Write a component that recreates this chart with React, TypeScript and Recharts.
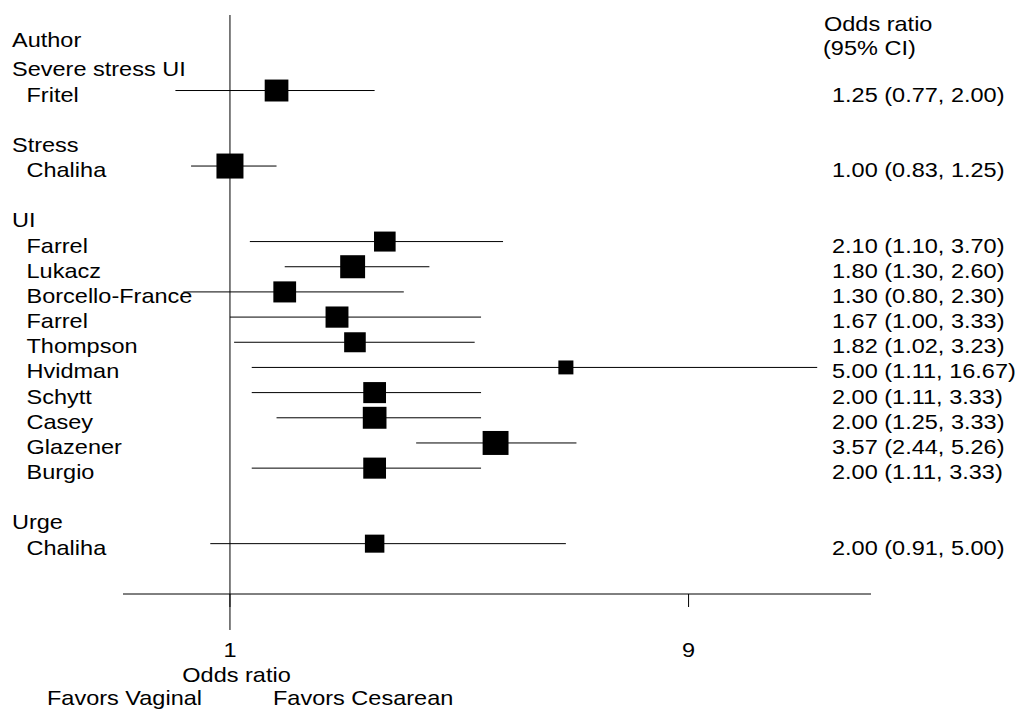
import { ComposedChart, XAxis, YAxis, Scatter, ReferenceLine } from 'recharts';

const groups = ['Severe stress UI', 'Stress', 'UI', 'Urge'];
const studies = [
  'Fritel',
  'Chaliha',
  'Farrel',
  'Lukacz',
  'Borcello-France',
  'Farrel',
  'Thompson',
  'Hvidman',
  'Schytt',
  'Casey',
  'Glazener',
  'Burgio',
  'Chaliha',
];
const studyGroup = [0, 1, 2, 2, 2, 2, 2, 2, 2, 2, 2, 2, 3];
const oddsRatio = [1.25, 1.0, 2.1, 1.8, 1.3, 1.67, 1.82, 5.0, 2.0, 2.0, 3.57, 2.0, 2.0];
const ciLow = [0.77, 0.83, 1.1, 1.3, 0.8, 1.0, 1.02, 1.11, 1.11, 1.25, 2.44, 1.11, 0.91];
const ciHigh = [2.0, 1.25, 3.7, 2.6, 2.3, 3.33, 3.23, 16.67, 3.33, 3.33, 5.26, 3.33, 5.0];
// relative study weights (box area)
const studyWeight = [77, 100, 64, 85, 71, 72, 64, 31, 71, 77, 92, 71, 52];
const xTicks = [1, 9];

const FONT = '"Liberation Sans", Arial, Helvetica, sans-serif';
const FONT_SIZE = 21;
const STRETCH = 1.12;

type LabelRow = { row: number; label: string; indent: boolean };
type Point = { row: number; or: number; lo: number; hi: number; w: number; text: string };

// row 0 holds the column headers; each group gets a heading, its studies, then a gap
const labelRows: LabelRow[] = [];
const points: Point[] = [];
let r = 1;
groups.forEach((g, gi) => {
  labelRows.push({ row: r, label: g, indent: false });
  r++;
  studies.forEach((s, i) => {
    if (studyGroup[i] !== gi) return;
    labelRows.push({ row: r, label: s, indent: true });
    points.push({
      row: r,
      or: oddsRatio[i],
      lo: ciLow[i],
      hi: ciHigh[i],
      w: studyWeight[i],
      text: `${oddsRatio[i].toFixed(2)} (${ciLow[i].toFixed(2)}, ${ciHigh[i].toFixed(2)})`,
    });
    r++;
  });
  r++;
});

const labelByRow = new Map(labelRows.map((l) => [l.row, l]));
const estByRow = new Map(points.map((p) => [p.row, p.text]));

function Txt({ x, y, children, anchor = 'start' }: any) {
  return (
    <text
      transform={`translate(${x},${y}) scale(${STRETCH},1)`}
      textAnchor={anchor}
      fontFamily={FONT}
      fontSize={FONT_SIZE}
      fill="#000"
    >
      {children}
    </text>
  );
}

function LabelTick({ y, payload }: any) {
  const item = labelByRow.get(payload.value);
  if (!item) return null;
  return (
    <Txt x={item.indent ? 18.5 : 4} y={y + 11}>
      {item.label}
    </Txt>
  );
}

function EstTick({ y, payload }: any) {
  const text = estByRow.get(payload.value);
  if (!text) return null;
  return (
    <Txt x={824} y={y + 11}>
      {text}
    </Txt>
  );
}

function OddsTick({ x, y, payload }: any) {
  return (
    <Txt x={x} y={y + 49.5} anchor="middle">
      {payload.value}
    </Txt>
  );
}

function Box({ cx, cy, payload }: any) {
  const h = 2.5 * Math.sqrt(payload.w);
  const w = h * 1.08;
  return <rect x={cx - w / 2} y={cy - h / 2} width={w} height={h} fill="#000" />;
}

export default function App() {
  return (
    <ComposedChart
      width={1017}
      height={701}
      margin={{ top: 7, right: 0, bottom: 55, left: 0 }}
      style={{ fontFamily: FONT }}
    >
      <XAxis
        type="number"
        dataKey="or"
        scale="log"
        domain={[0.599, 21.57]}
        allowDataOverflow
        ticks={xTicks}
        interval={0}
        tickSize={13}
        tickMargin={0}
        height={60}
        axisLine={{ stroke: '#000' }}
        tickLine={{ stroke: '#000' }}
        tick={OddsTick}
      />
      <YAxis
        type="number"
        dataKey="row"
        domain={[-1, 22]}
        reversed
        allowDataOverflow
        ticks={labelRows.map((l) => l.row)}
        interval={0}
        width={115}
        axisLine={false}
        tickLine={false}
        tick={LabelTick}
      />
      <YAxis
        yAxisId="est"
        orientation="right"
        type="number"
        domain={[-1, 22]}
        reversed
        allowDataOverflow
        ticks={points.map((p) => p.row)}
        interval={0}
        width={154}
        axisLine={false}
        tickLine={false}
        tick={EstTick}
      />
      <ReferenceLine
        segment={[
          { x: 1, y: -1 },
          { x: 1, y: 23.43 },
        ]}
        stroke="#000"
        ifOverflow="visible"
      />
      {points.map((p, i) => (
        <ReferenceLine
          key={`ci-${i}`}
          segment={[
            { x: p.lo, y: p.row },
            { x: p.hi, y: p.row },
          ]}
          stroke="#000"
          ifOverflow="visible"
        />
      ))}
      <Scatter data={points} dataKey="row" shape={Box} isAnimationActive={false} />
      <Txt x={4} y={39}>Author</Txt>
      <Txt x={816} y={22.5}>Odds ratio</Txt>
      <Txt x={815} y={47}>(95% CI)</Txt>
      <Txt x={228.5} y={674} anchor="middle">Odds ratio</Txt>
      <Txt x={39} y={697}>Favors Vaginal</Txt>
      <Txt x={265} y={697}>Favors Cesarean</Txt>
    </ComposedChart>
  );
}
